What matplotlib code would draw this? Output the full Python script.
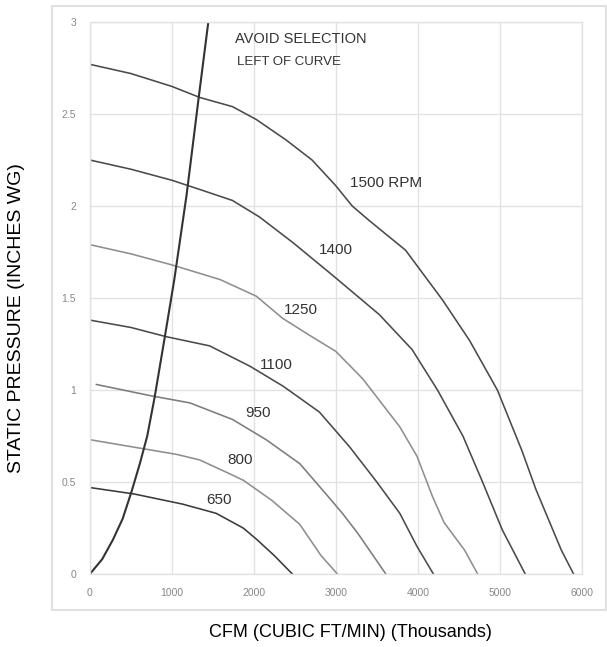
import matplotlib
matplotlib.use("Agg")
import matplotlib.pyplot as plt
from matplotlib.patches import Rectangle

plt.rcParams['font.family'] = ['Liberation Sans', 'DejaVu Sans']

# Surge line ("avoid selection left of curve")
surgeX = [0, 150, 280, 400, 510, 610, 700, 790, 915, 1030, 1180, 1325, 1445]
surgeY = [0, 0.08, 0.185, 0.30, 0.45, 0.60, 0.75, 0.96, 1.29, 1.60, 2.06, 2.58, 3.0]

# Fan curves (CFM, static pressure)
rpm1500X = [0, 500, 1000, 1340, 1740, 2030, 2390, 2710, 3000, 3200, 3410, 3850, 4300, 4630, 4970, 5270, 5440, 5750, 5900]
rpm1500Y = [2.77, 2.72, 2.65, 2.59, 2.54, 2.47, 2.36, 2.25, 2.11, 2.0, 1.92, 1.76, 1.49, 1.27, 1.0, 0.67, 0.46, 0.13, 0]
rpm1400X = [0, 500, 1000, 1340, 1740, 2070, 2480, 2970, 3530, 3930, 4240, 4550, 4780, 5030, 5310]
rpm1400Y = [2.25, 2.20, 2.14, 2.09, 2.03, 1.94, 1.80, 1.62, 1.41, 1.22, 1.0, 0.75, 0.51, 0.24, 0]
rpm1250X = [0, 500, 1000, 1590, 2030, 2350, 2670, 3000, 3330, 3780, 3990, 4180, 4320, 4570, 4730]
rpm1250Y = [1.79, 1.74, 1.68, 1.60, 1.51, 1.39, 1.30, 1.21, 1.06, 0.80, 0.64, 0.42, 0.28, 0.13, 0]
rpm1100X = [0, 500, 930, 1460, 1950, 2360, 2800, 3170, 3500, 3780, 3990, 4190]
rpm1100Y = [1.38, 1.34, 1.29, 1.24, 1.13, 1.02, 0.88, 0.69, 0.50, 0.33, 0.15, 0]
rpm950X = [80, 730, 1220, 1740, 2150, 2560, 2870, 3080, 3270, 3440, 3610]
rpm950Y = [1.03, 0.97, 0.93, 0.84, 0.73, 0.60, 0.44, 0.33, 0.22, 0.11, 0]
rpm800X = [0, 730, 1060, 1340, 1680, 1870, 2220, 2560, 2820, 3020]
rpm800Y = [0.73, 0.675, 0.65, 0.62, 0.55, 0.51, 0.40, 0.27, 0.10, 0]
rpm650X = [0, 540, 1130, 1540, 1870, 2030, 2250, 2470]
rpm650Y = [0.47, 0.435, 0.38, 0.33, 0.25, 0.19, 0.10, 0]

curveNames = ["1500 RPM", "1400", "1250", "1100", "950", "800", "650"]
labelX = [3610, 3000, 2570, 2270, 2050, 1830, 1570]
labelY = [2.125, 1.76, 1.435, 1.136, 0.873, 0.62, 0.40]

xTicks = [0, 1000, 2000, 3000, 4000, 5000, 6000]
yTicks = [0, 0.5, 1, 1.5, 2, 2.5, 3]
yTickLabels = ["0", "0.5", "1", "1.5", "2", "2.5", "3"]

curves = [(rpm1500X, rpm1500Y, "#4a4a4a"),
          (rpm1400X, rpm1400Y, "#4a4a4a"),
          (rpm1250X, rpm1250Y, "#8e8e8e"),
          (rpm1100X, rpm1100Y, "#4a4a4a"),
          (rpm950X, rpm950Y, "#7c7c7c"),
          (rpm800X, rpm800Y, "#8e8e8e"),
          (rpm650X, rpm650Y, "#3a3a3a")]

fig = plt.figure(figsize=(6.07, 6.47), dpi=100)

# Chart area border
fig.patches.append(Rectangle((0.085, 0.057), 0.913, 0.934, transform=fig.transFigure,
                             fill=False, edgecolor="#e0e0e0", linewidth=1.5))

ax = fig.add_axes([0.148, 0.1128, 0.8105, 0.8532])
for cx, cy, col in curves:
    ax.plot(cx, cy, color=col, linewidth=1.15, solid_joinstyle="round")
ax.plot(surgeX, surgeY, color="#333333", linewidth=1.5, solid_joinstyle="round")

for name, lx, ly in zip(curveNames, labelX, labelY):
    ax.text(lx, ly, name, fontsize=11, color="#333333", ha="center", va="center")

ax.text(1770, 2.91, "AVOID SELECTION", fontsize=10.5, color="#333333", ha="left", va="center")
ax.text(1790, 2.78, "LEFT OF CURVE", fontsize=9.5, color="#333333", ha="left", va="center")

ax.set_xlim(0, 6000)
ax.set_ylim(0, 3)
ax.set_xticks(xTicks)
ax.set_yticks(yTicks)
ax.set_yticklabels(yTickLabels)
ax.tick_params(length=0, labelsize=7.5, labelcolor="#888888")
ax.tick_params(axis="x", pad=10)
ax.tick_params(axis="y", pad=10)
ax.grid(True, color="#e2e2e2", linewidth=1.0)
ax.set_axisbelow(True)
for s in ax.spines.values():
    s.set_color("#e2e2e2")
    s.set_linewidth(1.0)

fig.text(0.578, 0.022, "CFM (CUBIC FT/MIN) (Thousands)", fontsize=13, ha="center", va="center")
fig.text(0.028, 0.508, "STATIC PRESSURE (INCHES WG)", fontsize=14, rotation=90, ha="center", va="center")

plt.savefig("out.png", dpi=100)
